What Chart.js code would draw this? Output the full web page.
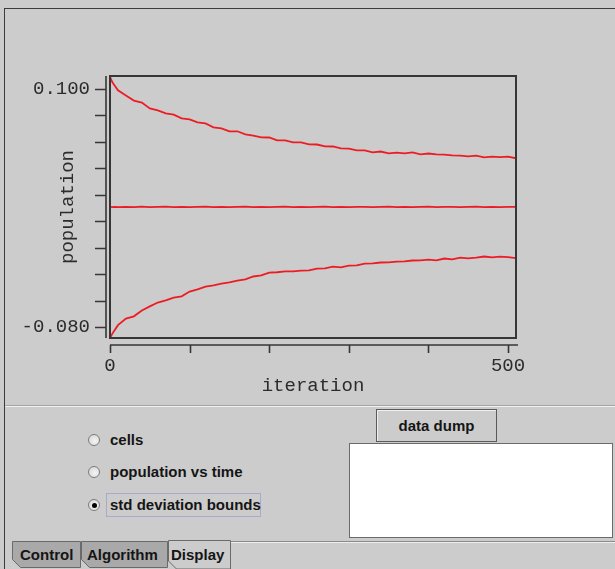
<!DOCTYPE html>
<html>
<head>
<meta charset="utf-8">
<script src="https://cdn.jsdelivr.net/npm/chart.js@4.4.1/dist/chart.umd.min.js"></script>
<style>
  html, body { margin: 0; padding: 0; }
  body { width: 615px; height: 569px; background: #cccccc; position: relative; overflow: hidden;
         font-family: "Liberation Sans", Arial, sans-serif; }
  #frameTop { position: absolute; left: 4px; top: 8px; right: 0; border-top: 1px solid #3c3c3c; }
  #frameLeft { position: absolute; left: 4px; top: 8px; bottom: 0; border-left: 1px solid #3c3c3c; }
  #plotWrap { position: absolute; left: 0; top: 0; width: 615px; height: 405px; }
  #sep { position: absolute; left: 5px; right: 0; top: 405px; height: 1px; background: #a4a4a4; border-bottom: 1px solid #f2f2f2; }
  .radio { position: absolute; left: 88px; width: 12px; height: 12px; border-radius: 50%;
           border: 1px solid #7c7c7c; background: radial-gradient(circle at 60% 60%, #f4f4f4, #d2d2d2); box-sizing: border-box; }
  .radio.on::after { content: ""; position: absolute; left: 2.5px; top: 2.5px; width: 5px; height: 5px; border-radius: 50%; background: #000; }
  .lbl { position: absolute; left: 110px; font-weight: bold; font-size: 15px; color: #151515; line-height: 18px; white-space: nowrap; }
  #focus { position: absolute; left: 106px; top: 493px; width: 155px; height: 24px; border: 1px solid #a8aacb; box-sizing: border-box; }
  #dump { position: absolute; left: 376px; top: 409px; width: 121px; height: 33px; box-sizing: border-box;
          border: 1px solid #5a5a5a; box-shadow: inset 1px 1px 0 #f0f0f0; text-align: center;
          font-weight: bold; font-size: 15px; line-height: 31px; color: #151515; }
  #area { position: absolute; left: 349px; top: 443px; width: 264px; height: 95px; background: #fff;
          border: 1px solid #6a6a6a; box-sizing: border-box; }
  #tabs { position: absolute; left: 0; top: 530px; }
</style>
</head>
<body>
<div id="frameTop"></div>
<div id="frameLeft"></div>
<div id="plotWrap"><canvas id="chartCanvas"></canvas></div>
<div id="sep"></div>

<div class="radio" style="top:434px"></div>
<div class="lbl" style="top:431px">cells</div>
<div class="radio" style="top:466px"></div>
<div class="lbl" style="top:463px">population vs time</div>
<div id="focus"></div>
<div class="radio on" style="top:499px"></div>
<div class="lbl" style="top:496px">std deviation bounds</div>

<div id="dump">data dump</div>
<div id="area"></div>

<svg id="tabs" width="615" height="39">
  <line x1="231" y1="11.5" x2="615" y2="11.5" stroke="#8a8a8a" stroke-width="1"/>
  <line x1="231" y1="12.5" x2="615" y2="12.5" stroke="#eeeeee" stroke-width="1"/>
  <polygon points="12.5,11.5 80.5,11.5 80.5,37.5 20.5,37.5 12.5,29.5" fill="#a9a9a9" stroke="#6a6a6a"/>
  <polygon points="81.5,11.5 167.5,11.5 167.5,37.5 89.5,37.5 81.5,29.5" fill="#a9a9a9" stroke="#6a6a6a"/>
  <polygon points="168.5,10.5 230.5,10.5 230.5,39 176.5,39 168.5,31" fill="#cccccc" stroke="#6a6a6a"/>
  <g font-family="Liberation Sans, Arial, sans-serif" font-weight="bold" font-size="15" fill="#151515">
    <text x="20" y="30">Control</text>
    <text x="87" y="30">Algorithm</text>
    <text x="171" y="30">Display</text>
  </g>
</svg>

<script>
// iteration samples
const iterations = [0, 3, 6, 10, 20, 30, 40, 50, 60, 70, 80, 90, 100, 110, 120, 130, 140, 150, 160, 170, 180,
  190, 200, 210, 220, 230, 240, 250, 260, 270, 280, 290, 300, 310, 320, 330, 340, 350, 360, 370, 380,
  390, 400, 410, 420, 430, 440, 450, 460, 470, 480, 490, 500, 510];

// upper std deviation bound
const upperBound = [0.1091, 0.1050, 0.1025, 0.0990, 0.0950, 0.0912, 0.0897, 0.0853, 0.0838, 0.0815, 0.0806,
  0.0778, 0.0770, 0.0748, 0.0739, 0.0710, 0.0702, 0.0679, 0.0680, 0.0656, 0.0648, 0.0634, 0.0633, 0.0611,
  0.0611, 0.0596, 0.0596, 0.0581, 0.0580, 0.0566, 0.0565, 0.0551, 0.0549, 0.0536, 0.0535, 0.0521, 0.0527,
  0.0513, 0.0519, 0.0513, 0.0520, 0.0506, 0.0512, 0.0505, 0.0504, 0.0498, 0.0496, 0.0490, 0.0496, 0.0483,
  0.0489, 0.0484, 0.0489, 0.0476];

// mean population
const meanPop = [0.0108, 0.0107, 0.0109, 0.0106, 0.0109, 0.0107, 0.0110, 0.0106, 0.0108, 0.0110, 0.0107,
  0.0109, 0.0106, 0.0108, 0.0110, 0.0107, 0.0109, 0.0106, 0.0108, 0.0110, 0.0107, 0.0109, 0.0107, 0.0108,
  0.0110, 0.0106, 0.0109, 0.0107, 0.0108, 0.0110, 0.0106, 0.0109, 0.0107, 0.0108, 0.0109, 0.0106, 0.0108,
  0.0110, 0.0107, 0.0109, 0.0106, 0.0108, 0.0110, 0.0107, 0.0108, 0.0109, 0.0106, 0.0108, 0.0110, 0.0107,
  0.0109, 0.0107, 0.0108, 0.0108];

// lower std deviation bound
const lowerBound = [-0.0882, -0.0850, -0.0822, -0.0786, -0.0736, -0.0719, -0.0675, -0.0644, -0.0615, -0.0598,
  -0.0577, -0.0568, -0.0532, -0.0515, -0.0494, -0.0485, -0.0471, -0.0462, -0.0449, -0.0439, -0.0418, -0.0409,
  -0.0388, -0.0386, -0.0380, -0.0379, -0.0373, -0.0371, -0.0358, -0.0356, -0.0343, -0.0349, -0.0335, -0.0334,
  -0.0320, -0.0318, -0.0312, -0.0311, -0.0305, -0.0303, -0.0297, -0.0296, -0.0290, -0.0296, -0.0282, -0.0288,
  -0.0275, -0.0281, -0.0275, -0.0267, -0.0273, -0.0267, -0.0272, -0.0279];

// axis ticks (only ends are labelled)
const xTickValues = [0, 100, 200, 300, 400, 500];
const xTickLabels = ['0', '', '', '', '', '500'];
const yTickValues = [-0.08, -0.06, -0.04, -0.02, 0, 0.02, 0.04, 0.06, 0.08, 0.10];
const yTickLabels = ['-0.080', '', '', '', '', '', '', '', '', '0.100'];

const axisFont = { family: '"Liberation Mono", "DejaVu Sans Mono", monospace', size: 19 };
const inkColor = '#2c2c2c';
const lineRed = 'rgb(236,28,36)';

// box round the plot, plus the detached axes with their tick marks
const axisFrame = {
  id: 'axisFrame',
  afterDatasetsDraw(chart) {
    const { ctx, chartArea: a, scales: { x, y } } = chart;
    ctx.save();
    ctx.strokeStyle = '#363636';
    ctx.lineWidth = 2;
    ctx.strokeRect(a.left, a.top, a.right - a.left, a.bottom - a.top);
    ctx.lineWidth = 1.6;
    ctx.beginPath();
    ctx.moveTo(a.left - 4, a.top); ctx.lineTo(a.left - 4, a.bottom);
    yTickValues.forEach(v => {
      const p = Math.round(y.getPixelForValue(v)) + 0.5;
      ctx.moveTo(a.left - 15, p); ctx.lineTo(a.left - 4, p);
    });
    const ax = a.bottom + 7;
    ctx.moveTo(a.left, ax); ctx.lineTo(a.right + 2, ax);
    xTickValues.forEach(v => {
      const p = Math.round(x.getPixelForValue(v)) + 0.5;
      ctx.moveTo(p, ax); ctx.lineTo(p, ax + 8);
    });
    ctx.stroke();
    ctx.restore();
  }
};

const pts = vals => vals.map((v, i) => ({ x: iterations[i], y: v }));
const series = (label, vals) => ({
  label, data: pts(vals), borderColor: lineRed, borderWidth: 1.8,
  pointRadius: 0, tension: 0, fill: false
});

new Chart(document.getElementById('chartCanvas'), {
  type: 'line',
  data: {
    datasets: [
      series('upper bound', upperBound),
      series('mean', meanPop),
      series('lower bound', lowerBound)
    ]
  },
  options: {
    responsive: true,
    maintainAspectRatio: false,
    animation: false,
    layout: { padding: { left: 0, top: 76, right: 99, bottom: 0 } },
    plugins: { legend: { display: false }, tooltip: { enabled: false } },
    scales: {
      x: {
        type: 'linear', min: 0, max: 510,
        afterBuildTicks: s => { s.ticks = xTickValues.map(v => ({ value: v })); },
        afterFit: s => { s.height = 67; },
        grid: { display: false }, border: { display: false },
        ticks: { autoSkip: false, maxRotation: 0, padding: 9, color: inkColor, font: axisFont,
                 callback: (v, i) => xTickLabels[i] },
        title: { display: true, text: 'iteration', color: inkColor, font: axisFont, padding: { top: 0, bottom: 8 } }
      },
      y: {
        type: 'linear', min: -0.0883, max: 0.1098,
        afterBuildTicks: s => { s.ticks = yTickValues.map(v => ({ value: v })); },
        afterFit: s => { s.width = 110; },
        grid: { display: false }, border: { display: false },
        ticks: { autoSkip: false, padding: 12, color: inkColor, font: axisFont,
                 callback: (v, i) => yTickLabels[i] },
        title: { display: true, text: 'population', color: inkColor, font: axisFont, padding: { top: 57, bottom: 0 } }
      }
    }
  },
  plugins: [axisFrame]
});
</script>
</body>
</html>
